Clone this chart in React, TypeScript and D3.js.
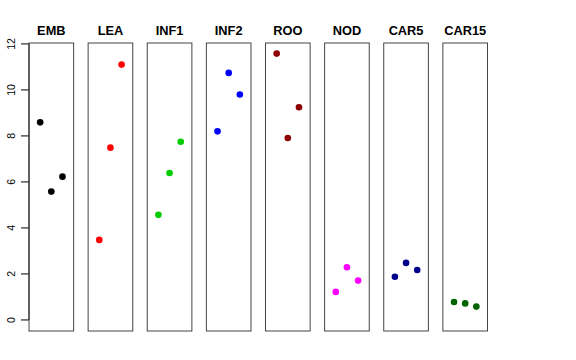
import React from "react";
import * as d3 from "d3";

const categories = ["EMB", "LEA", "INF1", "INF2", "ROO", "NOD", "CAR5", "CAR15"];
const colors = ["#000000", "#FF0000", "#00CD00", "#0000FF", "#8B0000", "#FF00FF", "#00008B", "#006400"];
const replicates = [1, 2, 3];
const EMB = [8.59, 5.58, 6.23];
const LEA = [3.48, 7.49, 11.1];
const INF1 = [4.57, 6.39, 7.75];
const INF2 = [8.2, 10.74, 9.8];
const ROO = [11.58, 7.91, 9.25];
const NOD = [1.22, 2.29, 1.71];
const CAR5 = [1.88, 2.48, 2.17];
const CAR15 = [0.78, 0.72, 0.58];
const seriesValues = [EMB, LEA, INF1, INF2, ROO, NOD, CAR5, CAR15];
const yTicks = [0, 2, 4, 6, 8, 10, 12];

export default function App() {
  const W = 576, H = 360;
  const panel = d3.scaleBand().domain(categories).range([29, 487.5]).paddingInner(0.245).paddingOuter(0);
  const y = d3.scaleLinear().domain([-0.48, 12.04]).range([331, 43]);
  const xin = d3.scaleLinear().domain([0, 4]).range([0, panel.bandwidth()]);
  const font = "'Liberation Sans', Arial, Helvetica, sans-serif";
  return (
    <svg width={W} height={H} style={{ position: "absolute", left: 0, top: 0, background: "#fff" }} fontFamily={font}>
      {/* y axis */}
      <line x1={29} x2={29} y1={y(0)} y2={y(12)} stroke="#000" strokeWidth={1} />
      {yTicks.map((t) => (
        <g key={t}>
          <line x1={21} x2={29} y1={y(t)} y2={y(t)} stroke="#000" strokeWidth={1} />
          <text
            transform={`translate(${15},${y(t)}) rotate(-90)`}
            textAnchor="middle"
            fontSize={10.5}
            fill="#000"
          >
            {t}
          </text>
        </g>
      ))}
      {categories.map((c, i) => {
        const x0 = panel(c)!;
        return (
          <g key={c}>
            <rect x={x0} y={y(12.04)} width={panel.bandwidth()} height={y(-0.48) - y(12.04)} fill="none" stroke="#444" strokeWidth={1} />
            <text x={x0 + panel.bandwidth() / 2} y={34.5} textAnchor="middle" fontWeight="bold" fontSize={12.8} fill="#000">
              {c}
            </text>
            {seriesValues[i].map((v, j) => (
              <circle key={j} cx={x0 + xin(replicates[j])} cy={y(v)} r={3.3} fill={colors[i]} />
            ))}
          </g>
        );
      })}
    </svg>
  );
}
